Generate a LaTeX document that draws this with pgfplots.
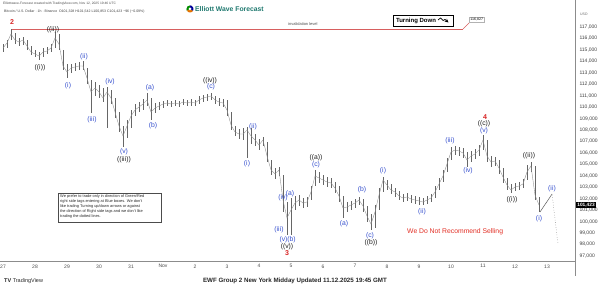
\documentclass[border=0pt]{standalone}
\usepackage{pgfplots}
\pgfplotsset{compat=1.18}
\usepackage{pgfplotstable}
\usepackage{fontspec}
\setmainfont{Liberation Sans}
\definecolor{wblue}{RGB}{52,78,205}
\definecolor{wred}{RGB}{215,35,35}
\definecolor{wblack}{RGB}{30,30,30}
\definecolor{ewfteal}{RGB}{30,120,110}
\definecolor{nrred}{RGB}{225,45,35}
\definecolor{invred}{RGB}{215,95,95}

\pgfplotstableread{
d hi lo cl
0 115515 114816 115166
0.125 115864 115166 115602
0.25 116825 115864 116388
0.375 116476 115515 115864
0.5 116039 115340 115690
0.625 116126 115428 115864
0.75 115864 114991 115340
0.875 115340 114554 114816
1.0 114991 114380 114642
1.125 114816 114118 114467
1.25 115166 114380 114816
1.375 115253 114642 114904
1.5 115515 114816 115166
1.625 116563 115166 116039
1.75 116388 114991 115515
1.875 114991 113244 113594
2.0 113768 112545 113070
2.125 113768 112982 113419
2.25 113856 113157 113506
2.375 113943 113244 113594
2.5 114030 113244 113594
2.625 113419 112021 112545
2.75 112371 109489 111323
2.875 112196 110973 111672
3.0 111934 110799 111323
3.125 111672 110449 110799
3.25 111759 108178 111323
3.375 111497 110275 110799
3.5 110799 109052 109576
3.625 109576 107829 108353
3.75 108353 106519 107480
3.875 108877 107305 108353
4.0 109751 108178 109227
4.125 110275 109227 109751
4.25 110449 109576 110013
4.375 110711 109751 110275
4.5 111235 110100 110624
4.625 110799 108877 109576
4.75 110362 109489 109925
4.875 110449 109751 110100
5.0 110537 109925 110275
5.125 110624 110100 110362
5.25 110537 110013 110275
5.375 110624 110100 110362
5.5 110537 110013 110275
5.625 110711 110187 110449
5.75 110624 110100 110362
5.875 110711 110100 110449
6.0 110624 110100 110362
6.125 110973 110275 110624
6.25 111061 110449 110799
6.375 111148 110537 110886
6.5 111235 110624 110973
6.625 110973 110275 110624
6.75 110799 110100 110449
6.875 110711 110013 110362
7.0 110624 109227 109751
7.125 109576 108004 108440
7.25 108353 107480 107829
7.375 108091 107218 107654
7.5 108178 107130 107654
7.625 108266 105558 108004
7.75 108178 106781 107480
7.875 107654 106606 107130
8.0 107218 106257 106694
8.125 107392 106606 107130
8.25 106956 105209 105733
8.375 105384 104073 104510
8.5 104685 103724 104161
8.625 104772 103986 104510
8.75 104073 100842 101890
8.875 101715 98833 100318
9.0 102065 98833 101017
9.125 102239 101017 101628
9.25 102327 101366 101890
9.375 102065 101191 101628
9.5 102152 101279 101715
9.625 103113 101890 102589
9.75 104510 103113 103986
9.875 104336 103375 103811
10.0 104073 103200 103637
10.125 103899 103025 103462
10.25 103811 102938 103375
10.375 103462 102501 102938
10.5 103113 101715 102239
10.625 102239 100318 101191
10.75 101715 100842 101279
10.875 101803 101017 101453
11.0 101977 101191 101628
11.125 102152 101453 101890
11.25 101977 100842 101366
11.375 101366 99969 100493
11.5 100667 99270 99794
11.625 101453 99444 100842
11.75 102938 101017 102327
11.875 103899 102589 103637
12.0 103637 102763 103200
12.125 103287 102414 102763
12.25 102938 102152 102589
12.375 102676 101890 102239
12.5 102414 101715 102065
12.625 102501 101803 102152
12.75 102327 101628 101977
12.875 102239 101541 101890
13.0 102152 101453 101803
13.125 102065 101453 101715
13.25 102239 101541 101890
13.375 102414 101715 102065
13.5 103113 102065 102589
13.625 103811 102763 103287
13.75 104510 103462 103986
13.875 105558 104336 105034
14.0 106519 105384 106082
14.125 106606 105820 106257
14.25 106519 105733 106170
14.375 106432 105558 105995
14.5 106082 104772 105384
14.625 106170 105209 105733
14.75 106344 105471 105908
14.875 106694 105733 106257
15.0 107567 106257 107130
15.125 107130 105209 105733
15.25 105733 104772 105209
15.375 105646 104860 105296
15.5 105384 104161 104685
15.625 104685 103375 103899
15.75 103811 102763 103200
15.875 103287 102501 102763
16.0 103375 102676 103025
16.125 103462 102763 103113
16.25 103724 102938 103287
16.375 104947 103637 104336
16.5 105209 104336 104860
16.625 104860 101890 102327
16.75 102152 100842 101453
}\btc

\newcommand{\lab}[4]{\node[font=\fontsize{6.8}{7}\selectfont, text=#4, inner sep=0pt] at (#1pt, 289pt-#2pt) {#3};}
\newcommand{\rlab}[3]{\node[font=\bfseries\fontsize{7}{7}\selectfont, text=#3, inner sep=0pt] at (#1pt, 289pt-#2pt) {2};}

\begin{document}
\begin{tikzpicture}
\useasboundingbox (0pt,0pt) rectangle (600pt,289pt);
\clip (0pt,0pt) rectangle (600pt,289pt);
\begin{axis}[
  at={(0pt,28pt)}, anchor=south west, scale only axis,
  width=575pt, height=261pt,
  xmin=-0.094, xmax=17.875, ymin=96562, ymax=119358,
  axis x line=bottom, axis y line=right,
  axis line style={-, draw=black!45, line width=0.5pt},
  major tick length=0pt,
  xtick={0,1,2,3,4,5,6,7,8,9,10,11,12,13,14,15,16,17},
  xticklabels={27,28,29,30,31,Nov,2,3,4,5,6,7,8,9,10,11,12,13},
  ytick={97000,98000,99000,100000,101000,102000,103000,104000,105000,106000,107000,108000,109000,110000,111000,112000,113000,114000,115000,116000,117000},
  scaled y ticks=false,
  /pgf/number format/assume math mode=true,
  yticklabel style={/pgf/number format/fixed, /pgf/number format/precision=0, /pgf/number format/1000 sep={,}, font=\fontsize{5}{6}\selectfont, text=black!75, xshift=1pt},
  xticklabel style={font=\fontsize{5}{6}\selectfont, text=black!70},
]
\addplot[invred, line width=0.6pt, forget plot] coordinates {(0.25,116827) (14.375,116827)};
\addplot[draw=none, forget plot, error bars/.cd, y dir=both, y explicit, error mark=none,
  error bar style={draw=black!60, solid, line width=0.5pt}]
  table[x=d, y=cl, y error plus expr=\thisrow{hi}-\thisrow{cl}, y error minus expr=\thisrow{cl}-\thisrow{lo}] {\btc};
\addplot[black!45, line width=0.35pt, mark=none] table[x=d, y=cl] {\btc};
\addplot[black!65, line width=0.5pt] coordinates {(16.78,100842) (17.16,102414)};
\addplot[black!55, line width=0.5pt, dotted] coordinates {(17.16,102330) (17.34,98134)};
\end{axis}
\draw[black!45, line width=0.5pt] (575pt,283pt) -- (575pt,13pt);
% header
\node[anchor=west, font=\fontsize{3.3}{4}\selectfont, text=black!70, inner sep=0pt] at (3pt,285pt) {Elliottwave-Forecast created with TradingView.com, Nov 12, 2025 19:46 UTC};
\node[anchor=west, font=\fontsize{3.5}{4}\selectfont, text=black!75, inner sep=0pt] at (4pt,277pt) {Bitcoin / U.S. Dollar · 1h · Binance\enspace O101,328 H101,542 L100,853 C101,423 −96 (−0.09\%)};
\fill[green!55!black] (190pt,280pt) -- ++(90:3.6pt) arc[start angle=90,end angle=210,radius=3.6pt] -- cycle;
\fill[orange!90!black] (190pt,280pt) -- ++(210:3.6pt) arc[start angle=210,end angle=330,radius=3.6pt] -- cycle;
\fill[blue!60!black] (190pt,280pt) -- ++(330:3.6pt) arc[start angle=330,end angle=450,radius=3.6pt] -- cycle;
\fill[white] (190pt,280pt) circle (1.5pt);
\node[anchor=west, font=\bfseries\fontsize{6.8}{7}\selectfont, text=ewfteal, inner sep=0pt] at (195pt,280pt) {Elliott Wave Forecast};
% invalidation
\node[anchor=west, font=\fontsize{4}{5}\selectfont, text=black!70, inner sep=0pt] at (288pt,265pt) {invalidation level};
\draw[invred, line width=0.4pt] (463pt,260pt) -- (470pt,267pt);
\node[draw=black!30, fill=white, font=\fontsize{3.6}{4}\selectfont, inner sep=1.2pt, anchor=west] at (469pt,269.5pt) {116,827};
\draw[black, line width=0.6pt] (393pt,274pt) rectangle (453pt,263pt);
\node[font=\bfseries\fontsize{6}{7}\selectfont, inner sep=0pt] at (416pt,268.5pt) {Turning Down};
\draw[-stealth, line width=0.7pt] (438pt,269pt) -- (440.5pt,271pt) -- (443pt,268.5pt) -- (445pt,269.5pt) -- (448.5pt,266.5pt);
% price box
\node[fill=black, text=white, font=\bfseries\fontsize{4.8}{5}\selectfont, inner sep=1.2pt, anchor=west] at (576pt,84pt) {101,423};
\node[anchor=west, font=\fontsize{3.5}{4}\selectfont, text=black!60, inner sep=0pt] at (580pt,275pt) {USD};
% info box
\draw[black!70, line width=0.6pt] (58pt,96pt) rectangle (161pt,67pt);
\node[anchor=north west, align=left, font=\fontsize{3.9}{5.1}\selectfont, inner sep=0pt, text=black!85] at (60pt,94.5pt) {We prefer to trade only in direction of Green/Red\\right side tags entering at Blue boxes. We don't\\like trading Turning up/down arrows or against\\the direction of Right side tags and we don't like\\trading the dotted lines.};
\node[anchor=west, text=nrred, font=\fontsize{6.8}{8}\selectfont, inner sep=0pt] at (407pt,57pt) {We Do Not Recommend Selling};
% footer
\node[font=\bfseries\fontsize{6.2}{7}\selectfont, text=black!85, inner sep=0pt] at (295pt,8pt) {EWF Group 2 New York Midday Updated 11.12.2025 19:45 GMT};
\node[anchor=west, font=\fontsize{5.5}{6}\selectfont, text=black!85, inner sep=0pt] at (4pt,8pt) {{\bfseries TV} TradingView};
% wave labels
\node[font=\bfseries\fontsize{7}{7}\selectfont, text=wred, inner sep=0pt] at (12pt, 267pt) {2};
\node[font=\bfseries\fontsize{7}{7}\selectfont, text=wred, inner sep=0pt] at (287pt, 36pt) {3};
\node[font=\bfseries\fontsize{7}{7}\selectfont, text=wred, inner sep=0pt] at (485pt, 172pt) {4};
\lab{40}{68}{((i))}{wblack}
\lab{53}{30}{((ii))}{wblack}
\lab{124}{160}{((iii))}{wblack}
\lab{210}{81}{((iv))}{wblack}
\lab{287}{247}{((v))}{wblack}
\lab{316}{158}{((a))}{wblack}
\lab{371}{243}{((b))}{wblack}
\lab{484}{124}{((c))}{wblack}
\lab{512}{200}{((i))}{wblack}
\lab{529}{156}{((ii))}{wblack}
\lab{68}{86}{(i)}{wblue}
\lab{84}{57}{(ii)}{wblue}
\lab{92}{120}{(iii)}{wblue}
\lab{110}{82}{(iv)}{wblue}
\lab{124}{152}{(v)}{wblue}
\lab{150}{88}{(a)}{wblue}
\lab{153}{126}{(b)}{wblue}
\lab{211}{87}{(c)}{wblue}
\lab{247}{164}{(i)}{wblue}
\lab{253}{127}{(ii)}{wblue}
\lab{279}{230}{(iii)}{wblue}
\lab{283}{198}{(iv)}{wblue}
\lab{290}{194}{(a)}{wblue}
\lab{283.5}{240}{(v)}{wblue}
\lab{291.5}{240}{(b)}{wblue}
\lab{316}{165}{(c)}{wblue}
\lab{344}{224}{(a)}{wblue}
\lab{362}{190}{(b)}{wblue}
\lab{370}{236}{(c)}{wblue}
\lab{383}{171}{(i)}{wblue}
\lab{422}{212}{(ii)}{wblue}
\lab{450}{141}{(iii)}{wblue}
\lab{468}{171}{(iv)}{wblue}
\lab{484}{131}{(v)}{wblue}
\lab{539}{219}{(i)}{wblue}
\lab{552}{189}{(ii)}{wblue}
\end{tikzpicture}
\end{document}
